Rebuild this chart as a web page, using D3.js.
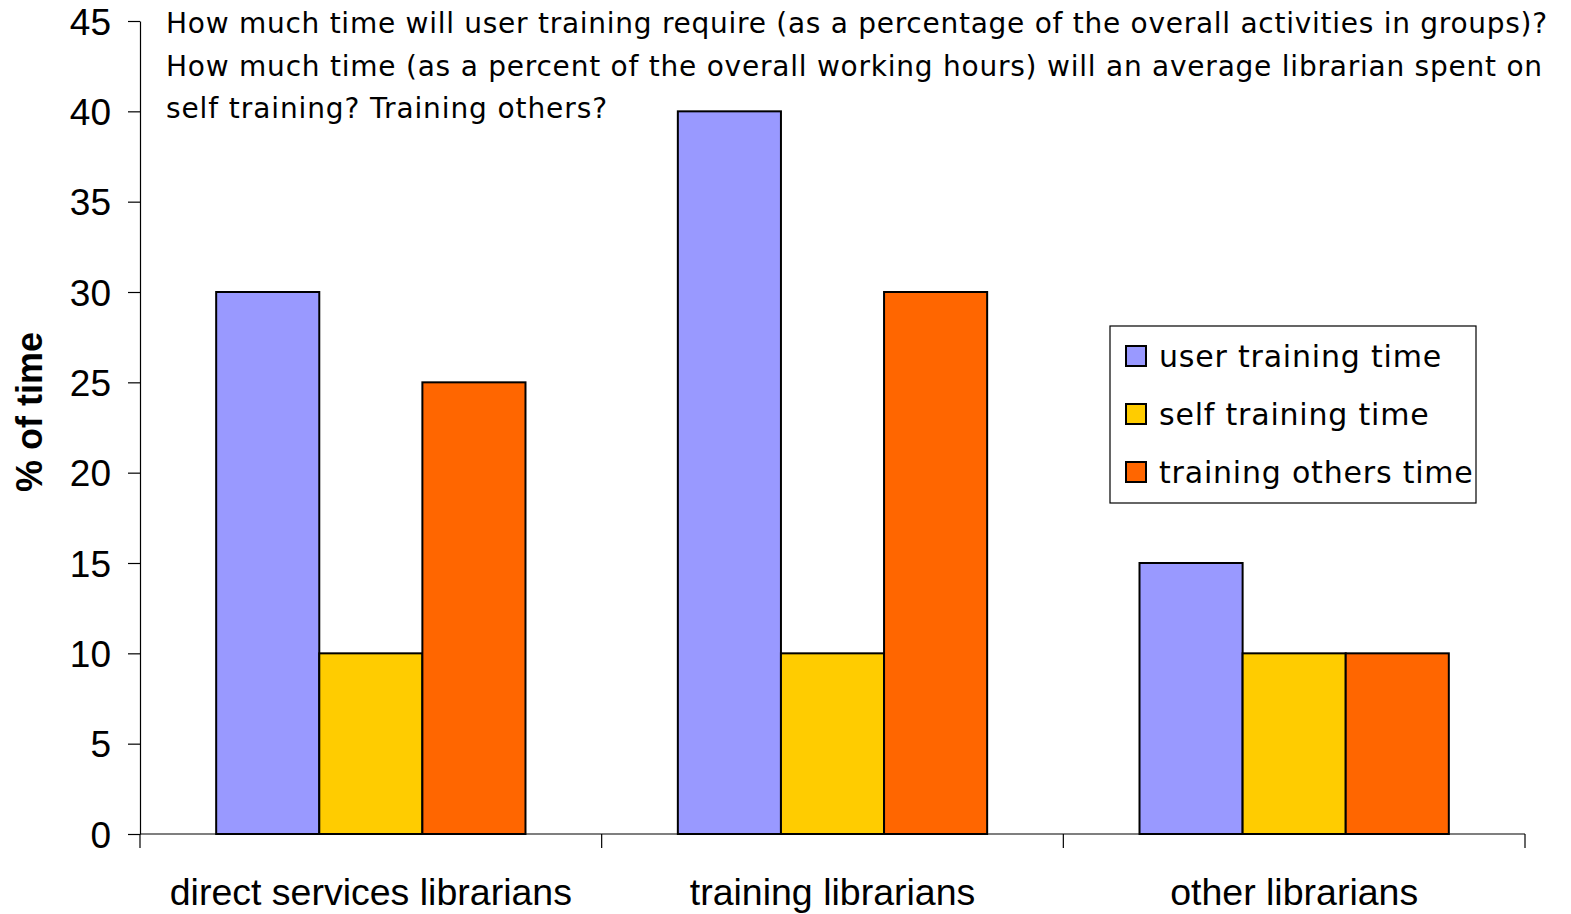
<!DOCTYPE html>
<style>
	body { margin: 0; background: #fff; }
	.axis text { font: 37px "Liberation Sans", Arial, sans-serif; fill: #000; }
	.axis path, .axis line { stroke: #000; stroke-width: 1.2px; }
	.bar { stroke: #000; stroke-width: 2px; }
	.title { font: 28px "DejaVu Sans", Verdana, sans-serif; fill: #000; letter-spacing: 0.9px; }
	.legend text { font: 30px "DejaVu Sans", Verdana, sans-serif; fill: #000; letter-spacing: 0.8px; }
</style>
<head>
	<script src="https://d3js.org/d3.v7.min.js"></script>
</head>
<body>
	<svg width="1571" height="914"></svg>
</body>
<script>
var categories = ["direct services librarians", "training librarians", "other librarians"];
var seriesNames = ["user training time", "self training time", "training others time"];
var userTraining = [30, 40, 15];
var selfTraining = [10, 10, 10];
var trainingOthers = [25, 30, 10];
var colors = ["#9999ff", "#ffcc00", "#ff6600"];
var yTicks = [0, 5, 10, 15, 20, 25, 30, 35, 40, 45];
var titleLines = [
	"How much time will user training require (as a percentage of the overall activities in groups)?",
	"How much time (as a percent of the overall working hours) will an average librarian spent on",
	"self training? Training others?"
];

var series = [userTraining, selfTraining, trainingOthers];
var data = categories.map(function(c, i) {
	return { cat: c, values: series.map(function(s, j) { return { name: seriesNames[j], value: s[i] }; }) };
});

var svg = d3.select("svg");
var mLeft = 140, mRight = 1525, mTop = 21, mBottom = 834;

var x0 = d3.scaleBand().domain(categories).range([mLeft, mRight]).paddingInner(0.33).paddingOuter(0.165);
var x1 = d3.scaleBand().domain(seriesNames).range([0, x0.bandwidth()]);
var y = d3.scaleLinear().domain([0, 45]).range([mBottom, mTop]);
var color = d3.scaleOrdinal().domain(seriesNames).range(colors);

// title text
svg.selectAll(".title").data(titleLines).enter().append("text")
	.attr("class", "title")
	.attr("x", 166)
	.attr("y", function(d, i) { return 33 + i * 42.5; })
	.attr("textLength", function(d, i) { return i == 0 ? 1382 : (i == 1 ? 1377 : null); })
	.attr("lengthAdjust", "spacing")
	.text(function(d) { return d; });

// y axis
svg.append("g").attr("class", "axis")
	.attr("transform", "translate(" + mLeft + ",0)")
	.call(d3.axisLeft(y).tickValues(yTicks).tickSize(12).tickPadding(17).tickSizeOuter(0))
	.selectAll("text").attr("dy", "0.36em");

// bars
var g = svg.selectAll(".group").data(data).enter().append("g")
	.attr("transform", function(d) { return "translate(" + x0(d.cat) + ",0)"; });
g.selectAll("rect").data(function(d) { return d.values; }).enter().append("rect")
	.attr("class", "bar")
	.attr("x", function(d) { return x1(d.name); })
	.attr("width", x1.bandwidth())
	.attr("y", function(d) { return y(d.value); })
	.attr("height", function(d) { return y(0) - y(d.value); })
	.attr("fill", function(d) { return color(d.name); });

// x axis: baseline, labels, ticks between categories
var xa = svg.append("g").attr("class", "axis").attr("transform", "translate(0," + mBottom + ")");
xa.call(d3.axisBottom(x0).tickSize(0).tickPadding(44).tickSizeOuter(0));
xa.select(".domain").attr("d", "M" + mLeft + ",0H" + mRight);
xa.selectAll("text").style("font-size", "37.5px");
var half = x0.step() * x0.paddingInner() / 2;
var bounds = [mLeft].concat(categories.slice(1).map(function(c) { return x0(c) - half; })).concat([mRight]);
xa.selectAll(".sep").data(bounds).enter().append("line")
	.attr("x1", function(d) { return d; }).attr("x2", function(d) { return d; })
	.attr("y1", 0).attr("y2", 14);

// legend
var lg = svg.append("g").attr("class", "legend").attr("transform", "translate(1110,326)");
lg.append("rect").attr("width", 366).attr("height", 177).attr("fill", "#fff").attr("stroke", "#000").attr("stroke-width", 1.2);
var item = lg.selectAll(".item").data(seriesNames).enter().append("g")
	.attr("transform", function(d, i) { return "translate(16," + (30 + i * 58) + ")"; });
item.append("rect").attr("x", 0).attr("y", -10).attr("width", 20).attr("height", 20)
	.attr("fill", function(d) { return color(d); }).attr("stroke", "#000").attr("stroke-width", 2);
item.append("text").attr("x", 33).attr("dy", "0.36em").text(function(d) { return d; });

// y axis title
svg.append("text")
	.attr("transform", "translate(42,412) rotate(-90)")
	.attr("text-anchor", "middle")
	.style("font", "bold 36px 'Liberation Sans', Arial, sans-serif")
	.text("% of time");
</script>
